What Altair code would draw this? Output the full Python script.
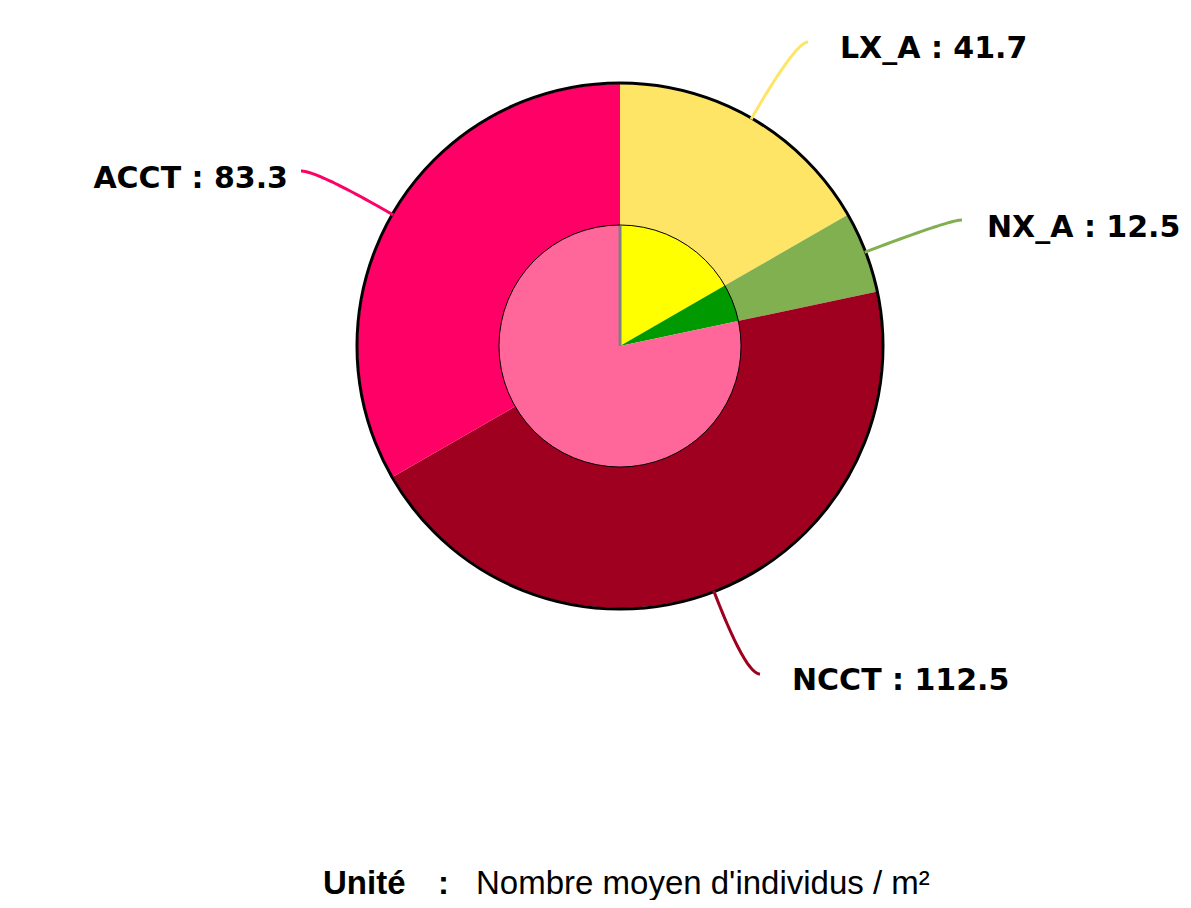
import altair as alt
import pandas as pd
import math

# ---- data ----
outer_labels = ["LX_A", "NX_A", "NCCT", "ACCT"]
outer_values = [41.7, 12.5, 112.5, 83.3]
outer_colors = ["#FFE566", "#80B050", "#A00020", "#FF0066"]

inner_labels = ["LX", "NX", "CCT"]
inner_values = [41.7, 12.5, 195.8]
inner_colors = ["#FFFF00", "#009900", "#FF6699"]

caption_bold = "Unité"
caption_sep = ":"
caption_text = "Nombre moyen d'individus / m²"

# ---- layout ----
W, H = 1175, 892
CX, CY = 612, 338
R_OUT, R_IN = 262, 121
# leader line end points and label positions (view coordinates)
line_ends = [(800, 34), (954, 212), (752, 666), (293, 163)]
label_pos = [(832, 50, "left"), (979, 229, "left"), (784, 682, "left"), (280, 180, "right")]

outer_df = pd.DataFrame({"label": outer_labels, "value": outer_values,
                         "color": outer_colors, "idx": range(len(outer_labels))})
inner_df = pd.DataFrame({"label": inner_labels, "value": inner_values,
                         "color": inner_colors, "idx": range(len(inner_labels))})

# leader lines: quadratic curve from slice mid-angle on the outer edge to the label
total = sum(outer_values)
rows = []
cum = 0.0
for i, (lab, v) in enumerate(zip(outer_labels, outer_values)):
    mid = (cum + v / 2) / total * 2 * math.pi
    cum += v
    sx, sy = CX + R_OUT * math.sin(mid), CY - R_OUT * math.cos(mid)
    ex, ey = line_ends[i]
    dx, dy = math.sin(mid), -math.cos(mid)
    t = (ey - sy) / dy if abs(dy) > 1e-6 else 80
    cx, cy = sx + dx * t, sy + dy * t
    n = 30
    for k in range(n + 1):
        u = k / n
        x = (1 - u) ** 2 * sx + 2 * (1 - u) * u * cx + u ** 2 * ex
        y = (1 - u) ** 2 * sy + 2 * (1 - u) * u * cy + u ** 2 * ey
        rows.append({"label": lab, "x": x, "y": y, "k": k, "color": outer_colors[i]})
lines_df = pd.DataFrame(rows)

texts_df = pd.DataFrame({
    "text": [f"{l} : {v}" for l, v in zip(outer_labels, outer_values)],
    "x": [p[0] for p in label_pos],
    "y": [p[1] for p in label_pos],
    "align": [p[2] for p in label_pos],
})

xs = alt.Scale(domain=[0, W], nice=False, zero=False)
ys = alt.Scale(domain=[0, H], nice=False, zero=False, reverse=True)

outer = alt.Chart(outer_df).mark_arc(innerRadius=R_IN - 2, outerRadius=R_OUT).encode(
    theta=alt.Theta("value:Q", stack=True),
    order=alt.Order("idx:Q"),
    color=alt.Color("color:N", scale=None),
    x=alt.value(CX), y=alt.value(CY),
)
outer_ring = alt.Chart(pd.DataFrame({"v": [1]})).mark_arc(
    outerRadius=R_OUT + 1, fillOpacity=0, stroke="black", strokeWidth=3
).encode(theta=alt.Theta("v:Q"), x=alt.value(CX), y=alt.value(CY))

inner = alt.Chart(inner_df).mark_arc(outerRadius=R_IN).encode(
    theta=alt.Theta("value:Q", stack=True),
    order=alt.Order("idx:Q"),
    color=alt.Color("color:N", scale=None),
    x=alt.value(CX), y=alt.value(CY),
)
inner_ring = alt.Chart(pd.DataFrame({"v": [1]})).mark_arc(
    outerRadius=R_IN, fillOpacity=0, stroke="black", strokeWidth=1
).encode(theta=alt.Theta("v:Q"), x=alt.value(CX), y=alt.value(CY))

grey_df = pd.DataFrame({"x": [CX], "y": [CY - R_IN + 1], "y2": [CY]})
grey = alt.Chart(grey_df).mark_rule(color="#808080", strokeWidth=3).encode(
    x=alt.X("x:Q", scale=xs, axis=None),
    y=alt.Y("y:Q", scale=ys, axis=None),
    y2="y2:Q",
)

leaders = alt.Chart(lines_df).mark_line(strokeWidth=3).encode(
    x=alt.X("x:Q", scale=xs, axis=None),
    y=alt.Y("y:Q", scale=ys, axis=None),
    detail="label:N",
    order="k:Q",
    color=alt.Color("color:N", scale=None),
)

def label_layer(al):
    return alt.Chart(texts_df[texts_df["align"] == al]).mark_text(
        font="DejaVu Sans", fontWeight="bold", fontSize=30, align=al,
        baseline="alphabetic", color="black"
    ).encode(
        x=alt.X("x:Q", scale=xs, axis=None),
        y=alt.Y("y:Q", scale=ys, axis=None),
        text="text:N",
    )

cap_df = pd.DataFrame({"text": [caption_bold, caption_sep, caption_text],
                       "x": [315, 430, 468], "y": [886, 886, 886],
                       "w": ["bold", "bold", "normal"]})
cap_bold = alt.Chart(cap_df[cap_df["w"] == "bold"]).mark_text(
    font="Liberation Sans", fontWeight="bold", fontSize=33, align="left",
    baseline="alphabetic", color="black"
).encode(x=alt.X("x:Q", scale=xs, axis=None), y=alt.Y("y:Q", scale=ys, axis=None), text="text:N")
cap_norm = alt.Chart(cap_df[cap_df["w"] == "normal"]).mark_text(
    font="Liberation Sans", fontSize=33, align="left",
    baseline="alphabetic", color="black"
).encode(x=alt.X("x:Q", scale=xs, axis=None), y=alt.Y("y:Q", scale=ys, axis=None), text="text:N")

chart = alt.layer(
    outer, outer_ring, inner, inner_ring, grey, leaders,
    label_layer("left"), label_layer("right"), cap_bold, cap_norm
).resolve_scale(theta="independent").properties(
    width=W, height=H, padding=0, autosize=alt.AutoSizeParams(type="none")
).configure_view(strokeWidth=0)

chart.save("out.html", embed_options={"renderer": "svg", "actions": False})
